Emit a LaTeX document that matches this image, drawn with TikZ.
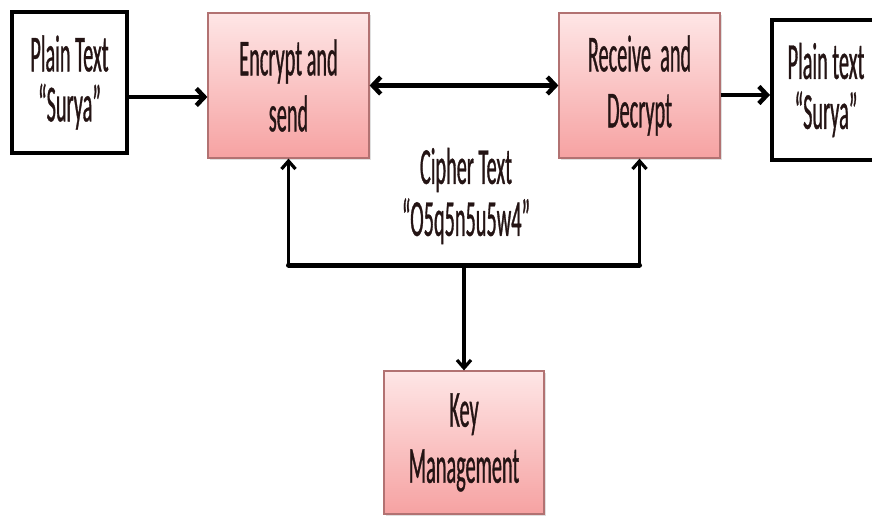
\documentclass[tikz,border=0pt]{standalone}
\usepackage{fontspec}
\newfontfamily\narrowfont[FakeStretch=0.39, FakeBold=0.6]{Carlito}
\usetikzlibrary{arrows.meta,shadows,calc}
\definecolor{pinktop}{HTML}{FEE6E6}
\definecolor{pinkbot}{HTML}{F6A2A2}
\definecolor{pinkline}{HTML}{B27272}
\definecolor{inktext}{HTML}{241414}
\tikzset{
  plainbox/.style={draw=black, line width=4pt, fill=white, align=center,
    font=\narrowfont\fontsize{52}{50}\selectfont, text=inktext},
  procbox/.style={draw=pinkline, line width=1.2pt, top color=pinktop, bottom color=pinkbot,
    align=center, font=\narrowfont\fontsize{52}{56}\selectfont, text=inktext,
    drop shadow={opacity=0.25, shadow xshift=2pt, shadow yshift=-2pt}},
  labeltext/.style={align=center, font=\narrowfont\fontsize{52}{52}\selectfont, text=inktext},
  flow/.style={line width=4.5pt, -{Straight Barb[length=8pt,width=17pt]}},
  flowboth/.style={line width=4.5pt, {Straight Barb[length=8pt,width=17pt]}-{Straight Barb[length=8pt,width=17pt]}},
  busline/.style={line width=5pt},
  riser/.style={line width=3.2pt, -{Straight Barb[length=8pt,width=14pt]}}
}
\begin{document}
\begin{tikzpicture}[x=1pt, y=-1pt]
  \path[use as bounding box, clip] (0,0) rectangle (872,519);

  % blocks
  \node[plainbox, minimum width=115pt, minimum height=141pt] (plainL) at (69.5,82.5) {Plain Text\\“Surya”};
  \node[procbox, minimum width=161pt, minimum height=145pt] (enc) at (288.5,85.5) {Encrypt and\\send};
  \node[procbox, minimum width=161pt, minimum height=145pt] (dec) at (639.5,85.5) {Receive\ \ and\\Decrypt};
  \node[plainbox, minimum width=108pt, minimum height=140pt] (plainR) at (826,90) {Plain text\\“Surya”};
  \node[procbox, minimum width=160pt, minimum height=143pt] (key) at (464,442.5) {Key\\Management};

  % cipher text caption
  \node[labeltext] (cipher) at (466,196) {Cipher Text\\“O5q5n5u5w4”};

  % helper rows
  \coordinate (rowL) at (0,97);
  \coordinate (rowR) at (0,95);
  \coordinate (bus) at (464,265);

  % connectors
  \draw[flow] (plainL.east |- rowL) -- (enc.west |- rowL);
  \draw[flowboth] (enc.east) -- (dec.west);
  \draw[flow] (dec.east |- rowR) -- (plainR.west |- rowR);
  \draw[busline, line cap=round] (enc.south |- bus) -- (dec.south |- bus);
  \draw[riser] (enc.south |- bus) -- (enc.south);
  \draw[riser] (dec.south |- bus) -- (dec.south);
  \draw[riser] (bus) -- (key.north);
\end{tikzpicture}
\end{document}
